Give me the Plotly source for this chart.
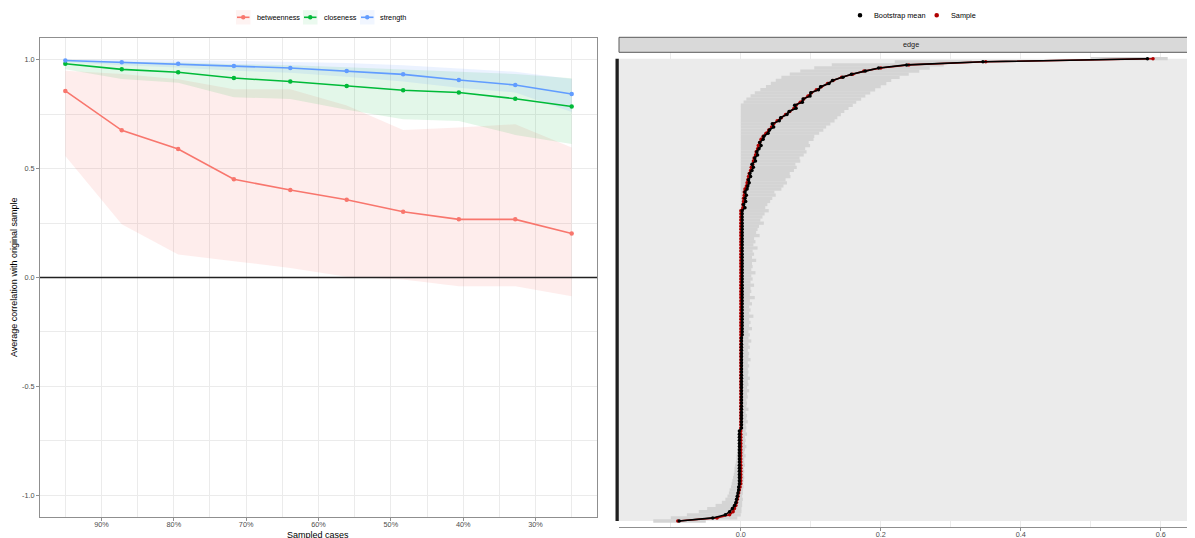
import plotly.graph_objects as go

W, H = 1195, 538
OFF = 8  # browser body margin: shift everything so it lands where the reference has it

# ---------------- left panel data (case-dropping bootstrap) ----------------
sampled_pct = [95.0, 87.2, 79.4, 71.7, 63.9, 56.1, 48.3, 40.6, 32.8, 25.0]
x_ticks = [90, 80, 70, 60, 50, 40, 30]
x_minor = [95, 85, 75, 65, 55, 45, 35, 25]
y_ticks = [-1.0, -0.5, 0.0, 0.5, 1.0]
y_labels = ["-1.0", "-0.5", "0.0", "0.5", "1.0"]
y_minor = [-0.75, -0.25, 0.25, 0.75]

betweenness = [0.857, 0.676, 0.590, 0.451, 0.402, 0.357, 0.302, 0.267, 0.267, 0.202]
betweenness_lo = [0.558, 0.244, 0.106, 0.075, 0.044, 0.003, -0.009, -0.040, -0.040, -0.086]
betweenness_hi = [0.950, 0.935, 0.910, 0.865, 0.865, 0.790, 0.678, 0.689, 0.704, 0.597]

closeness = [0.982, 0.956, 0.943, 0.916, 0.900, 0.879, 0.860, 0.850, 0.821, 0.785]
closeness_lo = [0.957, 0.912, 0.895, 0.828, 0.820, 0.770, 0.727, 0.719, 0.655, 0.613]
closeness_hi = [0.996, 0.992, 0.988, 0.980, 0.975, 0.966, 0.955, 0.945, 0.935, 0.915]

strength = [0.997, 0.989, 0.982, 0.971, 0.962, 0.948, 0.933, 0.907, 0.884, 0.843]
strength_lo = [0.990, 0.975, 0.965, 0.950, 0.940, 0.922, 0.900, 0.872, 0.850, 0.760]
strength_hi = [1.000, 1.000, 0.998, 0.995, 0.990, 0.985, 0.975, 0.960, 0.945, 0.912]

measure_names = ["betweenness", "closeness", "strength"]

# ---------------- right panel data (edge bootstrap, sorted by sample) ----------------
edge_sample = [
    -0.090, -0.034, -0.016, -0.011, -0.009, -0.007, -0.006, -0.005, -0.004, -0.003,
    -0.002, -0.001, 0.0, 0.0, 0.0, 0.0, 0.0, 0.0, 0.0, 0.0,
    0.0, 0.0, 0.0, 0.0, 0.0, 0.0, 0.0, 0.0, 0.0, 0.0,
    0.0, 0.0, 0.0, 0.0, 0.0, 0.0, 0.0, 0.0, 0.0, 0.0,
    0.0, 0.0, 0.0, 0.0, 0.0, 0.0, 0.0, 0.0, 0.0, 0.0,
    0.0, 0.0, 0.0, 0.0, 0.0, 0.0, 0.0, 0.0, 0.0, 0.0,
    0.0, 0.0, 0.0, 0.0, 0.0, 0.0, 0.0, 0.0, 0.0, 0.0,
    0.0, 0.0, 0.0, 0.0, 0.0, 0.0, 0.0, 0.0, 0.0, 0.0,
    0.0, 0.0, 0.0, 0.0, 0.0, 0.0, 0.0, 0.0, 0.0, 0.0,
    0.0, 0.0, 0.0, 0.0, 0.0, 0.0, 0.0, 0.0, 0.0, 0.0,
    0.0, 0.003, 0.003, 0.004, 0.004, 0.005, 0.005, 0.006, 0.008, 0.009,
    0.010, 0.011, 0.012, 0.014, 0.015, 0.017, 0.018, 0.019, 0.021, 0.022,
    0.024, 0.025, 0.027, 0.029, 0.032, 0.036, 0.040, 0.044, 0.047, 0.052,
    0.058, 0.064, 0.070, 0.076, 0.079, 0.085, 0.090, 0.096, 0.101, 0.108,
    0.115, 0.124, 0.132, 0.144, 0.160, 0.176, 0.200, 0.240, 0.350, 0.589,
]
edge_mean = [
    -0.088, -0.040, -0.022, -0.016, -0.012, -0.009, -0.007, -0.006, -0.005, -0.004,
    -0.003, -0.003, -0.002, -0.002, -0.002, -0.002, -0.002, -0.002, -0.002, -0.002,
    -0.002, -0.002, -0.002, -0.002, -0.002, -0.002, -0.002, -0.002, -0.002, -0.002,
    0.001, 0.001, 0.001, 0.001, 0.001, 0.001, 0.001, 0.001, 0.001, 0.001,
    0.001, 0.001, 0.001, 0.001, 0.001, 0.001, 0.001, 0.001, 0.001, 0.001,
    0.001, 0.001, 0.001, 0.001, 0.001, 0.001, 0.001, 0.001, 0.001, 0.001,
    0.002, 0.002, 0.002, 0.002, 0.002, 0.002, 0.002, 0.002, 0.002, 0.002,
    0.002, 0.002, 0.002, 0.002, 0.002, 0.002, 0.002, 0.002, 0.002, 0.002,
    0.002, 0.002, 0.002, 0.002, 0.002, 0.002, 0.002, 0.002, 0.002, 0.002,
    0.002, 0.002, 0.002, 0.002, 0.002, 0.002, 0.002, 0.002, 0.002, 0.002,
    0.002, 0.006, 0.004, 0.007, 0.006, 0.008, 0.006, 0.009, 0.010, 0.012,
    0.011, 0.014, 0.013, 0.016, 0.018, 0.016, 0.021, 0.020, 0.024, 0.023,
    0.026, 0.029, 0.027, 0.032, 0.033, 0.039, 0.041, 0.047, 0.045, 0.055,
    0.057, 0.066, 0.069, 0.079, 0.077, 0.088, 0.089, 0.099, 0.100, 0.111,
    0.114, 0.126, 0.131, 0.146, 0.158, 0.178, 0.197, 0.237, 0.346, 0.581,
]
edge_lower = [
    -0.125, -0.100, -0.077, -0.060, -0.048, -0.036, -0.027, -0.022, -0.019, -0.017,
    -0.016, -0.014, -0.013, -0.012, -0.011, -0.010, -0.009, -0.009, -0.008, -0.007,
    -0.006, -0.006, -0.005, -0.005, -0.004, -0.004, -0.003, -0.003, -0.003, -0.002,
    -0.002, -0.002, -0.002, -0.002, -0.001, -0.001, -0.001, -0.001, -0.001, -0.001,
    0.0, 0.0, 0.0, 0.0, 0.0, 0.0, 0.0, 0.0, 0.0, 0.0,
    0.0, 0.0, 0.0, 0.0, 0.0, 0.0, 0.0, 0.0, 0.0, 0.0,
    0.0, 0.0, 0.0, 0.0, 0.0, 0.0, 0.0, 0.0, 0.0, 0.0,
    0.0, 0.0, 0.0, 0.0, 0.0, 0.0, 0.0, 0.0, 0.0, 0.0,
    0.0, 0.0, 0.0, 0.0, 0.0, 0.0, 0.0, 0.0, 0.0, 0.0,
    0.0, 0.0, 0.0, 0.0, 0.0, 0.0, 0.0, 0.0, 0.0, 0.0,
    0.0, 0.0, 0.0, 0.0, 0.0, 0.0, 0.0, 0.0, 0.0, 0.0,
    0.0, 0.0, 0.0, 0.0, 0.0, 0.0, 0.0, 0.0, 0.0, 0.0,
    0.0, 0.0, 0.0, 0.0, 0.0, 0.0, 0.0, 0.0, 0.0, 0.0,
    0.0, 0.0, 0.0, 0.0, 0.0, 0.004, 0.008, 0.014, 0.020, 0.028,
    0.036, 0.043, 0.050, 0.058, 0.070, 0.085, 0.105, 0.130, 0.220, 0.500,
]
edge_upper = [
    -0.050, -0.005, 0.000, 0.001, 0.001, 0.002, 0.002, 0.003, 0.002, 0.003,
    0.003, 0.004, 0.003, 0.004, 0.005, 0.004, 0.005, 0.004, 0.006, 0.005,
    0.005, 0.007, 0.005, 0.006, 0.008, 0.006, 0.007, 0.006, 0.009, 0.007,
    0.008, 0.007, 0.010, 0.008, 0.009, 0.007, 0.011, 0.008, 0.009, 0.008,
    0.010, 0.009, 0.012, 0.009, 0.011, 0.010, 0.013, 0.010, 0.011, 0.010,
    0.012, 0.010, 0.014, 0.011, 0.012, 0.010, 0.013, 0.011, 0.015, 0.011,
    0.013, 0.011, 0.016, 0.012, 0.014, 0.012, 0.018, 0.012, 0.014, 0.012,
    0.016, 0.013, 0.020, 0.013, 0.015, 0.014, 0.019, 0.014, 0.017, 0.015,
    0.021, 0.015, 0.017, 0.016, 0.022, 0.016, 0.019, 0.017, 0.024, 0.018,
    0.021, 0.019, 0.027, 0.022, 0.024, 0.026, 0.033, 0.028, 0.031, 0.034,
    0.040, 0.035, 0.038, 0.042, 0.045, 0.050, 0.048, 0.058, 0.061, 0.066,
    0.064, 0.071, 0.070, 0.076, 0.080, 0.078, 0.085, 0.084, 0.090, 0.094,
    0.092, 0.099, 0.097, 0.104, 0.105, 0.112, 0.118, 0.122, 0.128, 0.134,
    0.138, 0.143, 0.148, 0.154, 0.160, 0.165, 0.172, 0.178, 0.185, 0.192,
    0.200, 0.208, 0.215, 0.227, 0.240, 0.255, 0.270, 0.290, 0.330, 0.610,
]
edge_rank = list(range(1, len(edge_sample) + 1))
edge_xticks = [0.0, 0.2, 0.4, 0.6]
edge_xlabels = ["0.0", "0.2", "0.4", "0.6"]
edge_xminor = [-0.1, 0.1, 0.3, 0.5]
edge_legend = ["Bootstrap mean", "Sample"]

FONT = "Liberation Sans, Arial, Helvetica, sans-serif"
C_BET, C_CLO, C_STR = "#F8766D", "#00BA38", "#619CFF"
F_BET, F_CLO, F_STR = "rgba(248,118,109,0.13)", "rgba(0,186,56,0.11)", "rgba(97,156,255,0.13)"
K_BET, K_CLO, K_STR = "rgba(248,118,109,0.09)", "rgba(0,186,56,0.08)", "rgba(97,156,255,0.09)"
SAMPLE_RED = "#B00000"
GRID = "#EBEBEB"
AXIS = "#8F8F8F"


def px_x(p):
    return (p - OFF) / W


def px_y(p):
    return (H - (p - OFF)) / H


fig = go.Figure()

# ribbons
for lo, hi, fc in [(betweenness_lo, betweenness_hi, F_BET),
                   (closeness_lo, closeness_hi, F_CLO),
                   (strength_lo, strength_hi, F_STR)]:
    fig.add_trace(go.Scatter(
        x=sampled_pct + sampled_pct[::-1], y=hi + lo[::-1],
        fill="toself", fillcolor=fc, line=dict(width=0), mode="lines",
        showlegend=False, hoverinfo="skip", xaxis="x", yaxis="y"))

for name, vals, col in zip(measure_names, [betweenness, closeness, strength],
                           [C_BET, C_CLO, C_STR]):
    fig.add_trace(go.Scatter(
        x=sampled_pct, y=vals, name=name, mode="lines+markers",
        line=dict(color=col, width=1.6), marker=dict(color=col, size=4.5),
        showlegend=False, xaxis="x", yaxis="y"))

# right panel: CI segments
ci_x, ci_y = [], []
for r, lo, hi in zip(edge_rank, edge_lower, edge_upper):
    ci_x += [lo, hi, None]
    ci_y += [r, r, None]
fig.add_trace(go.Scatter(x=ci_x, y=ci_y, mode="lines",
                         line=dict(color="#D4D4D4", width=3.3),
                         showlegend=False, hoverinfo="skip", xaxis="x2", yaxis="y2"))

fig.add_trace(go.Scatter(x=edge_sample, y=edge_rank, mode="lines",
                         line=dict(color=SAMPLE_RED, width=1.6),
                         showlegend=False, xaxis="x2", yaxis="y2"))
fig.add_trace(go.Scatter(x=edge_sample, y=edge_rank, mode="markers",
                         marker=dict(color=SAMPLE_RED, size=3.5),
                         showlegend=False, xaxis="x2", yaxis="y2"))
fig.add_trace(go.Scatter(x=edge_mean, y=edge_rank, mode="lines",
                         line=dict(color="black", width=1.6),
                         showlegend=False, xaxis="x2", yaxis="y2"))
fig.add_trace(go.Scatter(x=edge_mean, y=edge_rank, mode="markers",
                         marker=dict(color="black", size=3.5),
                         showlegend=False, xaxis="x2", yaxis="y2"))

tickfont = dict(family=FONT, size=7.3, color="#4D4D4D")

fig.update_layout(
    width=W, height=H, margin=dict(l=0, r=0, t=0, b=0),
    paper_bgcolor="white", plot_bgcolor="white", showlegend=False,
    font=dict(family=FONT, size=8, color="black"),
    xaxis=dict(domain=[px_x(40), px_x(597)], anchor="y",
               range=[98.5, 21.5], tickvals=x_ticks,
               ticktext=[f"{v}%" for v in x_ticks],
               showgrid=True, gridcolor=GRID, gridwidth=1,
               minor=dict(tickvals=x_minor, showgrid=True, gridcolor=GRID, gridwidth=0.6),
               showline=True, linecolor=AXIS, linewidth=1, mirror=True,
               ticks="outside", ticklen=3, tickcolor=AXIS, ticklabelstandoff=-3,
               tickfont=tickfont, zeroline=False),
    yaxis=dict(domain=[px_y(517), px_y(38)], anchor="x",
               range=[-1.1, 1.1], tickvals=y_ticks, ticktext=y_labels,
               showgrid=True, gridcolor=GRID, gridwidth=1,
               minor=dict(tickvals=y_minor, showgrid=True, gridcolor=GRID, gridwidth=0.6),
               showline=True, linecolor=AXIS, linewidth=1, mirror=True,
               ticks="outside", ticklen=3, tickcolor=AXIS,
               tickfont=tickfont, zeroline=False),
    xaxis2=dict(domain=[px_x(619), px_x(1195)], anchor="y2",
                range=[-0.174, 0.649], tickvals=edge_xticks, ticktext=edge_xlabels,
                showgrid=True, gridcolor=GRID, gridwidth=1,
                minor=dict(tickvals=edge_xminor, showgrid=True, gridcolor=GRID, gridwidth=0.6),
                showline=True, linecolor=AXIS, linewidth=1,
                ticks="outside", ticklen=3, tickcolor=AXIS, ticklabelstandoff=-3,
                tickfont=tickfont, zeroline=False),
    yaxis2=dict(domain=[px_y(527), px_y(52)], anchor="x2",
                range=[-0.93, 152.16], showticklabels=False, showgrid=False,
                zeroline=False, showline=False),
)

shapes = [
    # zero line left
    dict(type="line", xref="x domain", yref="y", x0=0, x1=1, y0=0, y1=0,
         line=dict(color="#222222", width=1.3), layer="above"),
    # dense grid area on right panel (one grid line per edge)
    dict(type="rect", xref="x2 domain", yref="y2", x0=0, x1=1,
         y0=edge_rank[0], y1=edge_rank[-1], fillcolor=GRID,
         line=dict(width=0), layer="below"),
    # dense tick marks on right panel y axis
    dict(type="rect", xref="paper", yref="y2", x0=px_x(615.5), x1=px_x(618.8),
         y0=edge_rank[0], y1=edge_rank[-1], fillcolor="#1F1F1F",
         line=dict(width=0), layer="above"),
    # facet strip
    dict(type="rect", xref="paper", yref="paper", x0=px_x(619), x1=px_x(1196),
         y0=px_y(52.3), y1=px_y(37.3), fillcolor="#D9D9D9",
         line=dict(color="#5A5A5A", width=1), layer="above"),
]

annotations = [
    dict(text="edge", xref="paper", yref="paper", x=px_x(911), y=px_y(44.6),
         showarrow=False, font=dict(family=FONT, size=7.3, color="#1A1A1A"),
         xanchor="center", yanchor="middle"),
    dict(text="Sampled cases", xref="paper", yref="paper", x=px_x(318), y=px_y(534.5),
         showarrow=False, font=dict(family=FONT, size=9, color="black"),
         xanchor="center", yanchor="middle"),
    dict(text="Average correlation with original sample", xref="paper", yref="paper",
         x=px_x(14), y=px_y(278), textangle=-90, showarrow=False,
         font=dict(family=FONT, size=9, color="black"),
         xanchor="center", yanchor="middle"),
]

# manual legend, left panel (ggplot-style keys: ribbon fill square + line + point)
leg_y = 17.3
key_left = [236.0, 303.0, 360.0]
text_left = [254.7, 321.7, 378.0]
for name, col, fc, kx, tx in zip(measure_names, [C_BET, C_CLO, C_STR],
                                 [K_BET, K_CLO, K_STR], key_left, text_left):
    shapes.append(dict(type="rect", xref="paper", yref="paper",
                       x0=px_x(kx), x1=px_x(kx + 14.5), y0=px_y(leg_y + 7.2), y1=px_y(leg_y - 7.2),
                       fillcolor=fc, line=dict(width=0), layer="above"))
    shapes.append(dict(type="line", xref="paper", yref="paper",
                       x0=px_x(kx + 1), x1=px_x(kx + 13.5), y0=px_y(leg_y), y1=px_y(leg_y),
                       line=dict(color=col, width=1.6), layer="above"))
    cx = kx + 7.25
    shapes.append(dict(type="circle", xref="paper", yref="paper",
                       x0=px_x(cx - 2.2), x1=px_x(cx + 2.2), y0=px_y(leg_y + 2.2), y1=px_y(leg_y - 2.2),
                       fillcolor=col, line=dict(width=0), layer="above"))
    annotations.append(dict(text=name, xref="paper", yref="paper", x=px_x(tx), y=px_y(leg_y),
                            showarrow=False, xanchor="left", yanchor="middle",
                            font=dict(family=FONT, size=7.3, color="black")))

# manual legend, right panel (points)
leg2_y = 15.3
for name, col, dx, tx in zip(edge_legend, ["black", SAMPLE_RED], [860.0, 936.7], [871.7, 949.0]):
    shapes.append(dict(type="circle", xref="paper", yref="paper",
                       x0=px_x(dx - 2.3), x1=px_x(dx + 2.3), y0=px_y(leg2_y + 2.3), y1=px_y(leg2_y - 2.3),
                       fillcolor=col, line=dict(width=0), layer="above"))
    annotations.append(dict(text=name, xref="paper", yref="paper", x=px_x(tx), y=px_y(leg2_y),
                            showarrow=False, xanchor="left", yanchor="middle",
                            font=dict(family=FONT, size=7.3, color="black")))

fig.update_layout(shapes=shapes, annotations=annotations)

fig.write_html("out.html")
